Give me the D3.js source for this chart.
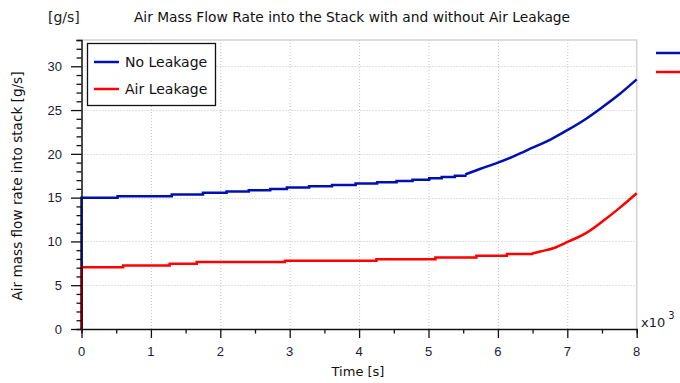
<!DOCTYPE html>
<html>
<head>
<meta charset="utf-8">
<script src="https://cdn.jsdelivr.net/npm/d3@7"></script>
<style>
  html, body { margin: 0; padding: 0; background: #fff; }
  svg { display: block; font-family: "DejaVu Sans", sans-serif; }
</style>
</head>
<body>
<svg id="chart" width="680" height="383"></svg>
<script>
// Time axis in thousands of seconds (x10^3)
const xTicks = [0, 1, 2, 3, 4, 5, 6, 7, 8];
const yTicks = [0, 5, 10, 15, 20, 25, 30];

// No Leakage: stepped plateau, then a smooth rise
const noLeakStepT = [0, 0, 0.52, 1.30, 1.75, 2.09, 2.41, 2.72, 2.96, 3.28, 3.61, 3.95, 4.26, 4.54, 4.77, 5.01, 5.19, 5.38, 5.53];
const noLeakStepV = [0, 15.0, 15.15, 15.35, 15.55, 15.7, 15.85, 16.0, 16.15, 16.3, 16.45, 16.6, 16.75, 16.9, 17.05, 17.2, 17.35, 17.5, 17.65];
const noLeakRiseT = [5.53, 5.75, 6.0, 6.25, 6.5, 6.75, 7.0, 7.25, 7.5, 7.75, 8.0];
const noLeakRiseV = [17.65, 18.3, 19.0, 19.8, 20.7, 21.6, 22.7, 23.9, 25.3, 26.8, 28.5];

// Air Leakage
const leakStepT = [0, 0, 0.60, 1.27, 1.66, 2.93, 4.25, 5.10, 5.69, 6.13, 6.49];
const leakStepV = [0, 7.05, 7.25, 7.45, 7.65, 7.8, 7.97, 8.16, 8.35, 8.55, 8.6];
const leakRiseT = [6.49, 6.61, 6.81, 7.02, 7.27, 7.51, 7.75, 8.0];
const leakRiseV = [8.6, 8.85, 9.25, 10.0, 10.95, 12.3, 13.8, 15.5];

const seriesNames = ["No Leakage", "Air Leakage"];
const seriesColors = ["#0010b0", "#ff0000"];

const svg = d3.select("#chart");
const plotLeft = 81.5, plotRight = 636.7, plotTop = 40, plotBottom = 329;

const x = d3.scaleLinear().domain([0, 8]).range([plotLeft, plotRight]);
const y = d3.scaleLinear().domain([0, 33]).range([plotBottom, plotTop]);

const textColor = "#1c1c30";

// Dotted grid
const grid = svg.append("g");
grid.selectAll("line.vx").data(xTicks.filter(d => d > 0 && d < 8)).join("line")
  .attr("x1", d => x(d) + 0.5).attr("x2", d => x(d) + 0.5)
  .attr("y1", plotTop).attr("y2", plotBottom)
  .attr("stroke", "#c4c4c4").attr("stroke-width", 1).attr("stroke-dasharray", "1,2");
grid.selectAll("line.hy").data(yTicks.filter(d => d > 0)).join("line")
  .attr("x1", plotLeft).attr("x2", plotRight)
  .attr("y1", d => Math.round(y(d)) + 0.5).attr("y2", d => Math.round(y(d)) + 0.5)
  .attr("stroke", "#c4c4c4").attr("stroke-width", 1).attr("stroke-dasharray", "1,2");

// Light frame on top and right
svg.append("path")
  .attr("d", `M${plotLeft},${plotTop}H${plotRight}V${plotBottom}`)
  .attr("fill", "none").attr("stroke", "#d2d2d2").attr("stroke-width", 1.5);

// Series lines
function pts(t, v) { return t.map((d, i) => [d, v[i]]); }
const stepLine = d3.line().x(d => x(d[0])).y(d => y(d[1])).curve(d3.curveStepAfter);
const riseLine = d3.line().x(d => x(d[0])).y(d => y(d[1])).curve(d3.curveMonotoneX);

const series = [
  { step: pts(noLeakStepT, noLeakStepV), rise: pts(noLeakRiseT, noLeakRiseV), color: seriesColors[0] },
  { step: pts(leakStepT, leakStepV), rise: pts(leakRiseT, leakRiseV), color: seriesColors[1] }
];
series.forEach(s => {
  svg.append("path").attr("d", stepLine(s.step)).attr("fill", "none")
    .attr("stroke", s.color).attr("stroke-width", 2.5);
  svg.append("path").attr("d", riseLine(s.rise)).attr("fill", "none")
    .attr("stroke", s.color).attr("stroke-width", 2.5);
});

// Axes
const xAxis = svg.append("g").attr("transform", `translate(0,${plotBottom})`);
xAxis.call(d3.axisBottom(x).tickValues(d3.range(0, 8.01, 0.5)).tickSize(4.5).tickFormat(""));
xAxis.call(g => g.selectAll(".tick").filter(d => Number.isInteger(d)).select("line").attr("y2", 9));
xAxis.selectAll(".tick line").attr("stroke", "#111").attr("stroke-width", 1.3);
xAxis.select(".domain").attr("stroke", "#111").attr("stroke-width", 1.5);
xAxis.selectAll("text.lbl").data(xTicks).join("text")
  .attr("class", "lbl").attr("x", d => x(d)).attr("y", 27)
  .attr("text-anchor", "middle").attr("font-size", 13).attr("fill", textColor)
  .text(d => d);

const yAxis = svg.append("g").attr("transform", `translate(${plotLeft},0)`);
yAxis.call(d3.axisLeft(y).tickValues(d3.range(0, 33.01, 1)).tickSize(5).tickFormat(""));
yAxis.call(g => g.selectAll(".tick").filter(d => d % 5 === 0).select("line").attr("x2", -10.5));
yAxis.selectAll(".tick line").attr("stroke", "#111").attr("stroke-width", 1.3);
yAxis.select(".domain").attr("stroke", "#111").attr("stroke-width", 1.5);
yAxis.selectAll("text.lbl").data(yTicks).join("text")
  .attr("class", "lbl").attr("x", -19.5).attr("y", d => y(d)).attr("dy", "0.36em")
  .attr("text-anchor", "end").attr("font-size", 13).attr("fill", textColor)
  .text(d => d);

// Titles
svg.append("text").attr("x", 352).attr("y", 22).attr("text-anchor", "middle")
  .attr("font-size", 13.8).attr("fill", "#111")
  .text("Air Mass Flow Rate into the Stack with and without Air Leakage");
svg.append("text").attr("x", 48).attr("y", 22).attr("font-size", 14).attr("fill", "#222")
  .text("[g/s]");
svg.append("text").attr("x", 358).attr("y", 376).attr("text-anchor", "middle")
  .attr("font-size", 13).attr("fill", "#111").text("Time [s]");
svg.append("text").attr("transform", "translate(22,186) rotate(-90)").attr("text-anchor", "middle")
  .attr("font-size", 13.6).attr("fill", "#111").text("Air mass flow rate into stack [g/s]");

// Time multiplier
const mult = svg.append("text").attr("x", 641).attr("y", 327).attr("font-size", 13).attr("fill", textColor);
mult.append("tspan").text("x10");
mult.append("tspan").attr("dx", 3).attr("dy", -8).attr("font-size", 10).text("3");

// Legend box inside the plot
const legend = svg.append("g");
legend.append("rect").attr("x", 87.5).attr("y", 43.5).attr("width", 128).attr("height", 62)
  .attr("fill", "#fff").attr("stroke", "#111").attr("stroke-width", 1.3);
seriesNames.forEach((name, i) => {
  const ly = 62 + i * 27;
  legend.append("line").attr("x1", 94).attr("x2", 119).attr("y1", ly).attr("y2", ly)
    .attr("stroke", seriesColors[i]).attr("stroke-width", 2.5);
  legend.append("text").attr("x", 125).attr("y", ly).attr("dy", "0.36em")
    .attr("font-size", 14).attr("fill", "#111").text(name);
});

// Legend stubs on the right margin
seriesColors.forEach((c, i) => {
  svg.append("line").attr("x1", 656).attr("x2", 680)
    .attr("y1", 53 + i * 19).attr("y2", 53 + i * 19)
    .attr("stroke", c).attr("stroke-width", 2.5);
});
</script>
</body>
</html>
